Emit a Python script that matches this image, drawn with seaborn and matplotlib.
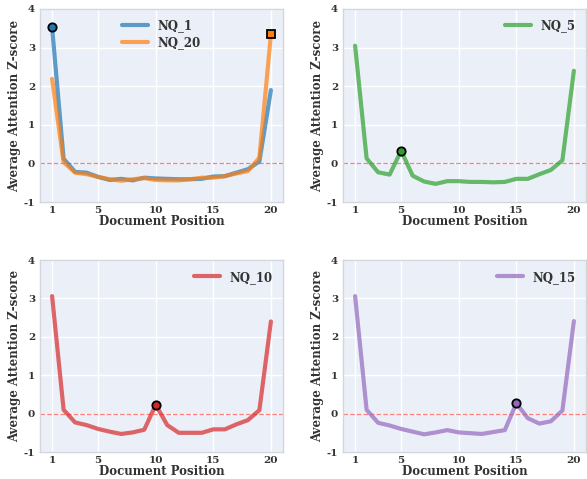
import matplotlib
matplotlib.use("Agg")
import matplotlib.pyplot as plt
import seaborn as sns
import pandas as pd
import numpy as np

positions = list(range(1, 21))
nq_1 = [3.53, 0.12, -0.22, -0.24, -0.35, -0.43, -0.40, -0.44, -0.37, -0.39,
        -0.40, -0.41, -0.41, -0.40, -0.34, -0.33, -0.24, -0.15, 0.05, 1.90]
nq_20 = [2.19, 0.03, -0.24, -0.28, -0.35, -0.41, -0.45, -0.41, -0.38, -0.43,
         -0.44, -0.44, -0.41, -0.37, -0.37, -0.33, -0.26, -0.20, 0.15, 3.34]
nq_5 = [3.05, 0.13, -0.23, -0.29, 0.33, -0.32, -0.47, -0.53, -0.46, -0.46,
        -0.48, -0.48, -0.49, -0.48, -0.40, -0.40, -0.28, -0.17, 0.08, 2.40]
nq_10 = [3.06, 0.10, -0.23, -0.30, -0.40, -0.47, -0.53, -0.49, -0.42, 0.23,
         -0.30, -0.50, -0.50, -0.50, -0.41, -0.41, -0.28, -0.17, 0.09, 2.40]
nq_15 = [3.06, 0.10, -0.24, -0.31, -0.40, -0.47, -0.54, -0.49, -0.43, -0.49,
         -0.51, -0.53, -0.48, -0.43, 0.27, -0.12, -0.26, -0.20, 0.08, 2.41]

xticks = [1, 5, 10, 15, 20]
yticks = [-1, 0, 1, 2, 3, 4]

sns.set_theme(style="darkgrid")
plt.rcParams["font.family"] = ["DejaVu Serif"]
plt.rcParams["font.weight"] = "bold"
plt.rcParams["axes.unicode_minus"] = False
plt.rcParams["axes.facecolor"] = "#ebf0f8"
plt.rcParams["axes.edgecolor"] = "#d3d6db"
plt.rcParams["grid.color"] = "white"

fig = plt.figure(figsize=(5.87, 4.79), dpi=100)
W, H = 587, 479
def ax_at(x0, y0, x1, y1):
    return fig.add_axes([x0 / W, 1 - y1 / H, (x1 - x0) / W, (y1 - y0) / H])

axes = [ax_at(40, 9, 283, 202), ax_at(343, 9, 586, 202),
        ax_at(40, 260, 283, 452), ax_at(343, 260, 586, 452)]

panels = [
    ([("NQ_1", nq_1, "#1f77b4", 1, "o"), ("NQ_20", nq_20, "#ff7f0e", 20, "s")], "upper center"),
    ([("NQ_5", nq_5, "#2ca02c", 5, "o")], "upper right"),
    ([("NQ_10", nq_10, "#d62728", 10, "o")], "upper right"),
    ([("NQ_15", nq_15, "#9467bd", 15, "o")], "upper right"),
]

for ax, (series, loc) in zip(axes, panels):
    for name, vals, color, gold, marker in series:
        df = pd.DataFrame({"pos": positions, "z": vals})
        sns.lineplot(data=df, x="pos", y="z", ax=ax, color=color, alpha=0.7,
                     linewidth=3, label=name)
        ax.plot([gold], [vals[gold - 1]], marker=marker, markersize=6,
                color=color, markeredgecolor="black", markeredgewidth=1.3,
                linestyle="none", zorder=5)
    ax.axhline(0, color="red", linestyle="--", linewidth=0.9, alpha=0.5, zorder=1)
    ax.set_ylim(-1, 4)
    ax.set_xlim(-0.05, 21.05)
    ax.set_xticks(xticks)
    ax.set_yticks(yticks)
    ax.set_xticklabels([str(t) for t in xticks], fontsize=7.5, fontweight="bold")
    ax.set_yticklabels([str(t) for t in yticks], fontsize=7.5, fontweight="bold")
    ax.tick_params(axis="both", length=2, width=0.6, color="#888888", pad=1.5,
                   labelcolor="#333333")
    ax.tick_params(axis="x", pad=1)
    ax.set_xlabel("Document Position", fontsize=8.5, fontweight="bold",
                  color="#333333", labelpad=0)
    ax.set_ylabel("Average Attention Z-score", fontsize=8.5, fontweight="bold",
                  color="#333333", labelpad=2)
    for s in ax.spines.values():
        s.set_visible(True)
        s.set_color("#d3d6db")
        s.set_linewidth(1)
    leg = ax.legend(loc=loc, frameon=False, prop={"family": "DejaVu Serif",
                    "weight": "bold", "size": 8.5}, handlelength=2.2,
                    labelspacing=0.3)
    for t in leg.get_texts():
        t.set_color("#333333")

fig.savefig("out.png", dpi=100)
